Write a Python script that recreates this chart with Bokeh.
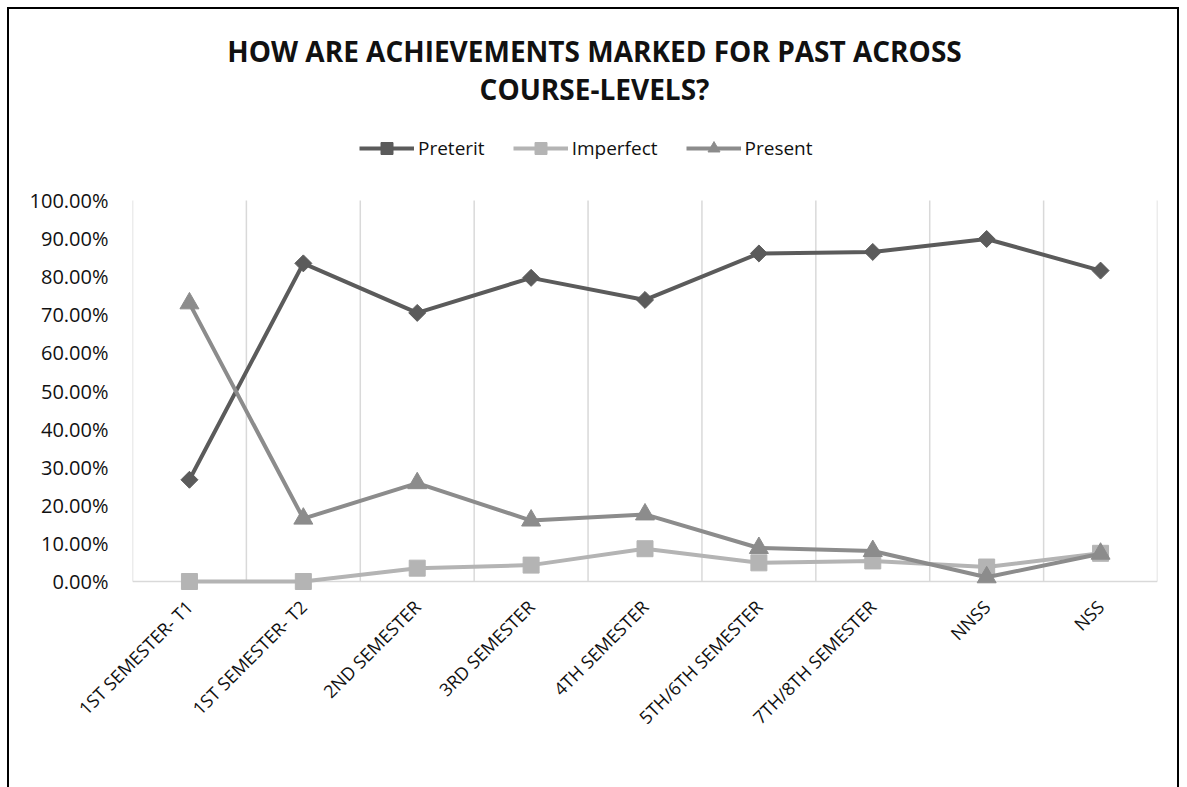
import math
from bokeh.plotting import figure
from bokeh.models import (Legend, LegendItem, Label, Span, FixedTicker,
                          NumeralTickFormatter, FactorRange, Range1d)
from bokeh.embed import file_html
from bokeh.resources import INLINE

# Course levels and the share of each past-marking form
categories = ["1ST SEMESTER- T1", "1ST SEMESTER- T2", "2ND SEMESTER", "3RD SEMESTER",
              "4TH SEMESTER", "5TH/6TH SEMESTER", "7TH/8TH SEMESTER", "NNSS", "NSS"]
preterit = [0.267, 0.835, 0.705, 0.797, 0.739, 0.861, 0.865, 0.899, 0.816]
imperfect = [0.0, 0.0, 0.035, 0.043, 0.086, 0.049, 0.054, 0.038, 0.074]
present = [0.730, 0.165, 0.258, 0.160, 0.176, 0.088, 0.080, 0.011, 0.073]
y_ticks = [i / 10 for i in range(11)]

FONT = "Open Sans"
W, H = 1172, 790
LEFT, RIGHT, BOTTOM = 123, 24, 204
TOP_ROW, ZERO_ROW = 191, 572        # canvas rows of the 100% and 0% lines
frame_bottom = H - BOTTOM           # the frame runs from the canvas top down to here
unit_px = ZERO_ROW - TOP_ROW
y_start = -(frame_bottom - ZERO_ROW) / unit_px   # a little room so markers at 0 stay whole
y_top = 1.0 + TOP_ROW / unit_px                  # room above 100% for title and legend

def y_at(canvas_row):
    return 1.0 + (TOP_ROW - canvas_row) / unit_px

p = figure(width=W, height=H,
           x_range=FactorRange(factors=categories, range_padding=0),
           y_range=Range1d(y_start, y_top),
           output_backend="svg", toolbar_location=None,
           min_border_left=LEFT, min_border_right=RIGHT,
           min_border_bottom=BOTTOM, min_border_top=0,
           background_fill_color="white", border_fill_color="white")
p.outline_line_color = None
p.title.visible = False
# chart-area frame drawn around the whole canvas
p.styles = {"margin-left": "7px", "margin-top": "7px",
            "border": "2px solid black"}

# vertical gridlines on the category boundaries, from 0% to 100%
p.xgrid.visible = False
p.ygrid.visible = False
bounds = list(range(len(categories) + 1))
p.segment(x0=bounds, y0=[0.0] * len(bounds), x1=bounds, y1=[1.0] * len(bounds),
          line_color="#d9d9d9", line_width=1.5)
# category axis baseline at 0%
p.add_layout(Span(location=0, dimension="width", line_color="#d9d9d9",
                  line_width=1.5, level="underlay"))

p.yaxis.ticker = FixedTicker(ticks=y_ticks)
p.yaxis.formatter = NumeralTickFormatter(format="0.00%")
p.yaxis.axis_line_color = None
p.yaxis.major_tick_line_color = None
p.yaxis.minor_tick_line_color = None
p.yaxis.major_label_text_font = FONT
p.yaxis.major_label_text_font_size = "20px"
p.yaxis.major_label_text_color = "#111111"
p.yaxis.major_label_standoff = 18

p.xaxis.axis_line_color = None
p.xaxis.major_tick_line_color = None
p.xaxis.minor_tick_line_color = None
p.xaxis.major_label_orientation = math.pi / 4
p.xaxis.major_label_text_font = FONT
p.xaxis.major_label_text_font_size = "18px"
p.xaxis.major_label_text_color = "#111111"
p.xaxis.major_label_standoff = 2

series = [
    ("Preterit", preterit, "#5b5b5b", "square", 12, math.pi / 4),
    ("Imperfect", imperfect, "#b4b4b4", "square", 16, 0),
    ("Present", present, "#8c8c8c", "triangle", 19, 0),
]
items = []
for name, vals, color, marker, size, angle in series:
    ln = p.line(categories, vals, line_color=color, line_width=4)
    sc = p.scatter(categories, vals, marker=marker, size=size, angle=angle,
                   fill_color=color, line_color=color)
    items.append(LegendItem(label=name, renderers=[ln, sc]))

LEG_H, LEG_ROW = 30, 139            # legend height and centre row on the canvas
legend = Legend(items=items, orientation="horizontal",
                location=(227, frame_bottom - (LEG_ROW + LEG_H / 2)),
                label_text_font=FONT, label_text_font_size="19px",
                label_text_color="#111111",
                glyph_width=55, glyph_height=LEG_H, label_standoff=4, spacing=28,
                padding=0, margin=0, border_line_color=None,
                background_fill_alpha=0)
p.add_layout(legend)

# two-line centred title
title_lines = ["HOW ARE ACHIEVEMENTS MARKED FOR PAST ACROSS", "COURSE-LEVELS?"]
title_x = (585 - LEFT) / ((W - LEFT - RIGHT) / len(categories))
for text, row in zip(title_lines, [41, 79]):
    p.add_layout(Label(x=title_x, y=y_at(row), text=text,
                       text_align="center", text_baseline="middle",
                       text_font=FONT, text_font_size="28px",
                       text_font_style="bold", text_color="#111111"))

open("out.html", "w").write(file_html(p, INLINE))
